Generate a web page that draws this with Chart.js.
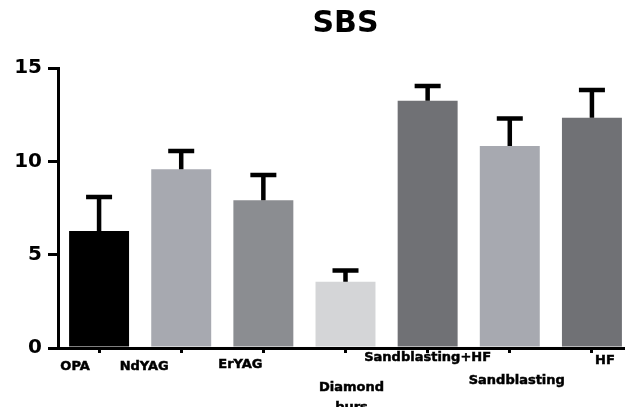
<!DOCTYPE html>
<html>
<head>
<meta charset="utf-8">
<script src="https://cdn.jsdelivr.net/npm/chart.js@4.4.0/dist/chart.umd.min.js"></script>
<style>
  body { margin: 0; overflow: hidden; background: #fff; }
  #wrap { width: 633px; height: 407px; position: relative; }
</style>
</head>
<body>
<div id="wrap"><canvas id="mycanvas"></canvas></div>
<script>
// values
let groups = ['OPA', 'NdYAG', 'ErYAG', ['Diamond', 'burs'], 'Sandblasting+HF', 'Sandblasting', 'HF'];
let means = [6.27, 9.57, 7.91, 3.55, 13.25, 10.82, 12.34];
let sds = [1.82, 0.98, 1.36, 0.6, 0.79, 1.47, 1.48];
let yTicks = [0, 5, 10, 15];
let barColors = ['#000000', '#a7a9b0', '#8b8d91', '#d4d5d7', '#707175', '#a7a9b0', '#707175'];

// the category labels are staggered in the original, shift each one a bit
let labelShift = [-24, -37, -23, 6, 0, 7, 13];
let labelDrop = [19, 19, 17, 40, 10, 33, 13];

Chart.defaults.font.family = "'DejaVu Sans', sans-serif";
Chart.defaults.color = '#000';

const errorBars = {
	id: 'errorBars',
	afterDatasetsDraw(chart) {
		const ctx = chart.ctx;
		const y = chart.scales.y;
		const meta = chart.getDatasetMeta(0);
		ctx.save();
		ctx.strokeStyle = '#000';
		ctx.lineWidth = 4.5;
		meta.data.forEach((bar, i) => {
			const top = y.getPixelForValue(means[i] + sds[i]);
			ctx.beginPath();
			ctx.moveTo(bar.x, bar.y);
			ctx.lineTo(bar.x, top);
			ctx.moveTo(bar.x - 13, top);
			ctx.lineTo(bar.x + 13, top);
			ctx.stroke();
		});
		ctx.restore();
	}
};

const groupLabels = {
	id: 'groupLabels',
	afterDraw(chart) {
		const ctx = chart.ctx;
		const x = chart.scales.x;
		ctx.save();
		ctx.font = 'bold 13px "DejaVu Sans"';
		ctx.fillStyle = '#000';
		ctx.strokeStyle = '#000';
		ctx.lineWidth = 0.5;
		ctx.textAlign = 'center';
		ctx.textBaseline = 'middle';
		groups.forEach((g, i) => {
			const lines = Array.isArray(g) ? g : [g];
			const cx = x.getPixelForValue(i) + labelShift[i];
			lines.forEach((t, k) => {
				const ty = x.top + labelDrop[i] + k * 20;
				ctx.fillText(t, cx, ty);
				ctx.strokeText(t, cx, ty);
			});
		});
		ctx.restore();
	}
};

var ctx = document.getElementById('mycanvas').getContext('2d');
var myChart = new Chart(ctx, {
	type: 'bar',
	data: {
		labels: groups,
		datasets: [{
			label: 'SBS',
			data: means,
			backgroundColor: barColors,
			borderWidth: 0,
			barPercentage: 0.73,
			categoryPercentage: 1
		}]
	},
	options: {
		responsive: true,
		maintainAspectRatio: false,
		animation: false,
		layout: { padding: 0 },
		plugins: {
			legend: { display: false },
			tooltip: { enabled: false },
			title: {
				display: true,
				text: 'SBS',
				fullSize: false,
				color: '#000',
				font: { size: 30, weight: 'bold' },
				padding: { top: 6, bottom: 26 }
			}
		},
		scales: {
			x: {
				grid: { offset: false, drawOnChartArea: false, drawTicks: true, tickLength: 5, color: '#000', lineWidth: 3 },
				border: { color: '#000', width: 3 },
				ticks: { display: false },
				afterFit(scale) { scale.height = 59; }
			},
			y: {
				min: 0,
				max: 15,
				afterBuildTicks(scale) { scale.ticks = yTicks.map(v => ({ value: v })); },
				grid: { drawOnChartArea: false, drawTicks: true, tickLength: 10, color: '#000', lineWidth: 3 },
				border: { color: '#000', width: 3 },
				ticks: { padding: 6, font: { size: 20, weight: 'bold' }, color: '#000' },
				afterFit(scale) { scale.width = 58; }
			}
		}
	},
	plugins: [errorBars, groupLabels]
});
</script>
</body>
</html>
